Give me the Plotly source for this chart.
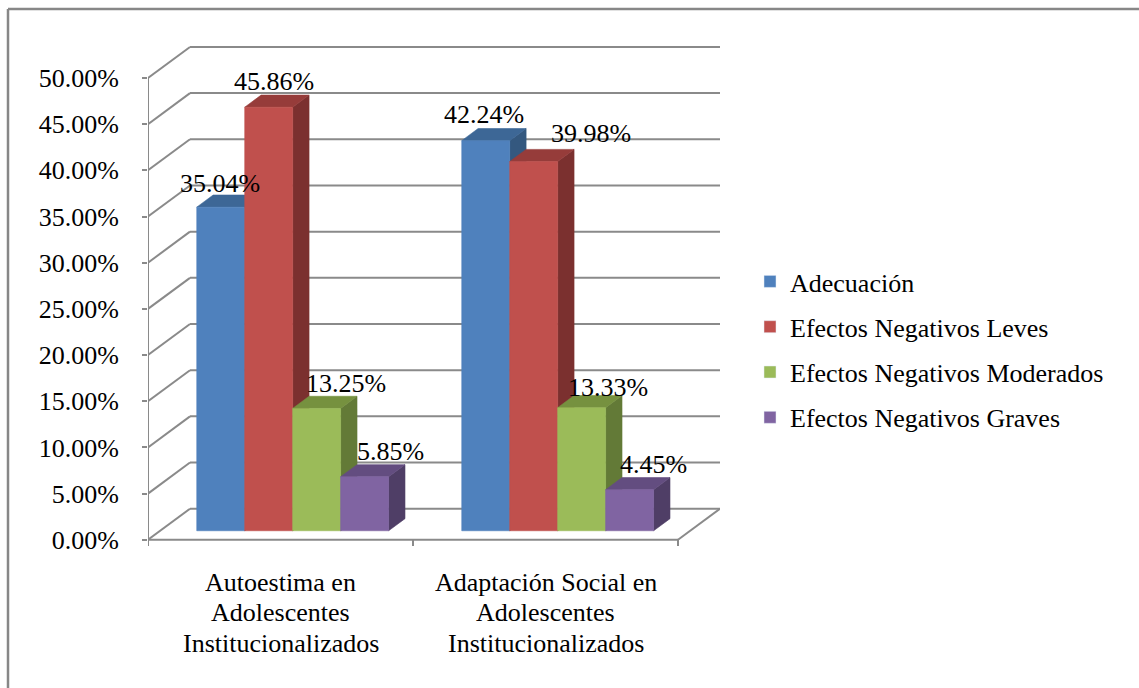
import plotly.graph_objects as go

# ---------------------------------------------------------------- data
categories = [
    "Autoestima en<br>Adolescentes<br>Institucionalizados",
    "Adaptación Social en<br>Adolescentes<br>Institucionalizados",
]
series_names = [
    "Adecuación",
    "Efectos Negativos Leves",
    "Efectos Negativos Moderados",
    "Efectos Negativos Graves",
]
adecuacion = [35.04, 42.24]
negativos_leves = [45.86, 39.98]
negativos_moderados = [13.25, 13.33]
negativos_graves = [5.85, 4.45]
y_tick_values = [0, 5, 10, 15, 20, 25, 30, 35, 40, 45, 50]
y_tick_labels = ["0.00%", "5.00%", "10.00%", "15.00%", "20.00%", "25.00%",
                 "30.00%", "35.00%", "40.00%", "45.00%", "50.00%"]

series_values = [adecuacion, negativos_leves, negativos_moderados, negativos_graves]

# ---------------------------------------------------------------- style
FONT = "Liberation Serif"
FS = 26
GRID = "#8a8a8a"
FRONT = ["#4F81BD", "#C0504D", "#9BBB59", "#8064A2"]
TOP = ["#3D6796", "#963C3A", "#76913F", "#634D80"]
SIDE = ["#34587F", "#7B302F", "#637A37", "#4F3E66"]

# pseudo-3D box: how far the back wall sits from the front plane (axis units)
DEPTH_X = 0.1585
DEPTH_Y = 3.36
BAR_NEAR, BAR_FAR = 0.29, 0.68    # depth slab occupied by the columns
BAR_W = 0.181                     # column width in category units

# value-label nudges (pixels) relative to each column's top front edge
LABEL_DX = [[-1, -2], [5, 57], [29, 26], [26, 24]]
LABEL_DY = [24, 26, 25, 25, 26, 28, 20, 25]

# category label placement below the floor (pixels)
CAT_FIRST_LINE = 582
CAT_LINE_STEP = 30.5

W, H = 1139, 688
M_L, M_R, M_T, M_B = 148, 419, 40, 139
X_RANGE = [-0.5, 1.6585]
Y_RANGE = [-1.0, 54.11]


def proj(x, y, d):
    """Project a point at depth d (0 = front, 1 = back wall)."""
    return x + d * DEPTH_X, y + d * DEPTH_Y


fig = go.Figure()

# ---------------------------------------------------------------- walls
wx, wy = [], []
x_front_l, x_front_r = -0.5, -0.5 + len(categories)
for v in y_tick_values:
    # back wall gridline
    for x in (x_front_l, x_front_r):
        px, py = proj(x, v, 1)
        wx.append(px); wy.append(py)
    wx.append(None); wy.append(None)
    # side wall diagonal
    for d in (0, 1):
        px, py = proj(x_front_l, v, d)
        wx.append(px); wy.append(py)
    wx.append(None); wy.append(None)
# vertical value axis
wx += [x_front_l, x_front_l, None]
wy += [0, y_tick_values[-1], None]
# floor front edge and right edge
wx += [x_front_l, x_front_r, None]
wy += [0, 0, None]
for d in (0, 1):
    px, py = proj(x_front_r, 0, d)
    wx.append(px); wy.append(py)
wx.append(None); wy.append(None)
# category tick marks on the front edge
for k in range(len(categories) + 1):
    wx += [x_front_l + k, x_front_l + k, None]
    wy += [0, -0.68, None]

fig.add_trace(go.Scatter(x=wx, y=wy, mode="lines",
                         line=dict(color=GRID, width=2),
                         hoverinfo="skip", showlegend=False))

# ---------------------------------------------------------------- columns
annotations = []
n_series = len(series_values)
shift_x = BAR_NEAR * DEPTH_X


def poly(pts):
    xs = [proj(*p)[0] for p in pts]
    ys = [proj(*p)[1] for p in pts]
    return xs + [xs[0]], ys + [ys[0]]


for i in range(len(categories)):
    left = i + shift_x - n_series / 2 * BAR_W
    for j, vals in enumerate(series_values):
        v = vals[i]
        x0 = left + j * BAR_W - BAR_NEAR * DEPTH_X
        x1 = x0 + BAR_W

        faces = [
            (poly([(x1, 0, BAR_NEAR), (x1, 0, BAR_FAR), (x1, v, BAR_FAR), (x1, v, BAR_NEAR)]), SIDE[j]),
            (poly([(x0, v, BAR_NEAR), (x1, v, BAR_NEAR), (x1, v, BAR_FAR), (x0, v, BAR_FAR)]), TOP[j]),
            (poly([(x0, 0, BAR_NEAR), (x1, 0, BAR_NEAR), (x1, v, BAR_NEAR), (x0, v, BAR_NEAR)]), FRONT[j]),
        ]
        for (fx, fy), col in faces:
            fig.add_trace(go.Scatter(x=fx, y=fy, mode="lines", fill="toself",
                                     fillcolor=col, line=dict(color=col, width=0.6),
                                     hoverinfo="skip", showlegend=False))

        cx, cy = proj((x0 + x1) / 2, v, BAR_NEAR)
        annotations.append(dict(
            x=cx, y=cy, xref="x", yref="y", text=f"{v:.2f}%", showarrow=False,
            xanchor="center", yanchor="middle",
            xshift=LABEL_DX[j][i], yshift=LABEL_DY[i * n_series + j],
            font=dict(family=FONT, size=FS, color="black")))

# legend entries
for j, name in enumerate(series_names):
    fig.add_trace(go.Bar(x=[None], y=[None], name=name, marker_color=FRONT[j],
                         legendgroup=name, showlegend=True))

# ---------------------------------------------------------------- frame
plot_w = W - M_L - M_R
plot_h = H - M_T - M_B


def px2paper(px, py):
    return (px - M_L) / plot_w, (H - M_B - py) / plot_h


# category labels, one line at a time, centred under each category
for i, label in enumerate(categories):
    for k, line in enumerate(label.split("<br>")):
        _, ly = px2paper(0, CAT_FIRST_LINE + k * CAT_LINE_STEP)
        annotations.append(dict(
            x=i, y=ly, xref="x", yref="paper", text=line, showarrow=False,
            xanchor="center", yanchor="middle",
            font=dict(family=FONT, size=FS, color="black")))

bx0, by0 = px2paper(8, 9)
bx1, _ = px2paper(W + 2, 9)
_, by1 = px2paper(8, H + 2)
shapes = [
    dict(type="line", xref="paper", yref="paper", x0=bx0, y0=by0, x1=bx1, y1=by0,
         line=dict(color="#878787", width=2.5)),
    dict(type="line", xref="paper", yref="paper", x0=bx0, y0=by0, x1=bx0, y1=by1,
         line=dict(color="#878787", width=2.5)),
]

lgx, lgy = px2paper(750, 258)

fig.update_layout(
    width=W, height=H,
    margin=dict(l=M_L, r=M_R, t=M_T, b=M_B, pad=0),
    paper_bgcolor="white", plot_bgcolor="white",
    font=dict(family=FONT, size=FS, color="black"),
    showlegend=True,
    legend=dict(x=lgx, y=lgy, xanchor="left", yanchor="top",
                font=dict(family=FONT, size=FS, color="black"),
                tracegroupgap=8.5, itemwidth=30, bgcolor="rgba(0,0,0,0)"),
    xaxis=dict(type="linear", range=X_RANGE, showgrid=False, zeroline=False,
               showline=False, showticklabels=False, ticks="", fixedrange=True),
    yaxis=dict(range=Y_RANGE, showgrid=False, zeroline=False, showline=False,
               tickmode="array", tickvals=y_tick_values, ticktext=y_tick_labels,
               ticks="outside", ticklen=5, tickwidth=2, tickcolor=GRID,
               ticklabelstandoff=18,
               tickfont=dict(family=FONT, size=FS, color="black"), fixedrange=True),
    annotations=annotations,
    shapes=shapes,
)

fig.write_html("out.html")
